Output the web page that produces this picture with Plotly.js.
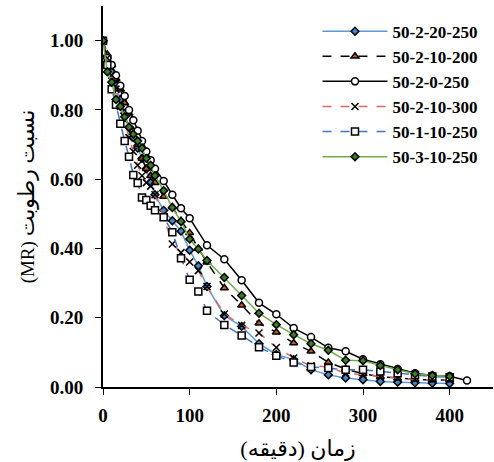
<!DOCTYPE html>
<html>
<head>
<meta charset="utf-8">
<script src="https://cdn.plot.ly/plotly-3.0.1.min.js"></script>
<style>html,body{margin:0;padding:0;background:#fff;}#chart{width:494px;height:462px;}</style>
</head>
<body>
<div id="chart"></div>
<script>
// Time (minutes)
const tA = [0,5,10,15,20,25,30,35,40,45,50,55,60,70,80,90,100,110,120,140,160,180,200,220,240,260,280,300,320,340,360,380,400];
const tC = [0,5,10,15,20,25,30,35,40,45,50,55,60,70,80,90,100,120,140,160,180,200,220,240,260,280,300,320,340,360,380,400,420];

const names = ["50-2-20-250","50-2-10-200","50-2-0-250","50-2-10-300","50-1-10-250","50-3-10-250"];

const mr_2_20_250 = [1.00,0.95,0.91,0.87,0.83,0.79,0.75,0.72,0.69,0.66,0.63,0.59,0.555,0.51,0.48,0.45,0.395,0.35,0.29,0.206,0.175,0.125,0.094,0.079,0.050,0.035,0.026,0.021,0.016,0.014,0.012,0.011,0.010];
const mr_2_10_200 = [1.00,0.96,0.93,0.89,0.86,0.82,0.79,0.74,0.70,0.66,0.63,0.61,0.59,0.55,0.52,0.48,0.445,0.40,0.36,0.286,0.236,0.184,0.158,0.127,0.103,0.071,0.052,0.038,0.030,0.025,0.022,0.020,0.020];
const mr_2_0_250  = [1.00,0.95,0.93,0.90,0.87,0.84,0.80,0.77,0.74,0.71,0.68,0.655,0.63,0.595,0.555,0.516,0.487,0.409,0.369,0.308,0.243,0.210,0.170,0.144,0.113,0.103,0.080,0.066,0.052,0.040,0.033,0.031,0.019];
const mr_2_10_300 = [1.00,0.95,0.90,0.86,0.81,0.77,0.72,0.68,0.64,0.61,0.59,0.58,0.555,0.49,0.413,0.388,0.361,0.336,0.29,0.211,0.178,0.156,0.114,0.084,0.061,0.058,0.040,0.035,0.030,0.025,0.022,0.020,0.020];
const mr_1_10_250 = [1.00,0.93,0.86,0.815,0.76,0.71,0.665,0.612,0.589,0.547,0.540,0.523,0.510,0.490,0.447,0.372,0.310,0.276,0.220,0.179,0.149,0.115,0.090,0.071,0.058,0.055,0.050,0.050,0.045,0.040,0.035,0.030,0.028];
const mr_3_10_250 = [1.00,0.91,0.88,0.83,0.81,0.78,0.75,0.73,0.71,0.69,0.66,0.64,0.61,0.567,0.518,0.478,0.427,0.398,0.365,0.316,0.264,0.213,0.180,0.151,0.125,0.106,0.077,0.076,0.062,0.050,0.038,0.033,0.031];

const xTickVals = [0,100,200,300,400];
const yTickVals = [0,0.2,0.4,0.6,0.8,1.0];

const xTitle = "زمان (دقیقه)";
const yTitleLatin = "(MR)";
const yTitleFa = "نسبت رطوبت";

const serif = "'Liberation Serif', 'Times New Roman', serif";
const arabicFont = "'Liberation Serif', 'DejaVu Sans', serif";

function tr(name, t, y, lineColor, dash, symbol, mFill, mSize, mLine){
  return {
    type: 'scatter', mode: 'lines+markers', name: name, legendgroup: name,
    x: t, y: y,
    line: {color: lineColor, width: 1.5, dash: dash},
    marker: {symbol: symbol, size: mSize, color: mFill, line: {color: mLine, width: 1.5}}
  };
}

const data = [
  tr(names[0], tA, mr_2_20_250, '#5B9BD5', 'solid', 'diamond', '#3B8AD0', 6, '#000'),
  tr(names[1], tA, mr_2_10_200, '#000000', 'dash', 'triangle-up', '#C55A11', 7, '#000'),
  tr(names[2], tC, mr_2_0_250, '#000000', 'solid', 'circle', '#FFFFFF', 7, '#000'),
  tr(names[3], tA, mr_2_10_300, '#E06666', 'dash', 'x-thin', '#000', 7, '#000'),
  tr(names[4], tA, mr_1_10_250, '#4472C4', 'dash', 'square', '#FFFFFF', 7, '#000'),
  tr(names[5], tA, mr_3_10_250, '#70AD47', 'solid', 'diamond', '#3A7D22', 6, '#000')
];

const layout = {
  width: 494, height: 462,
  margin: {l: 103, r: 1, t: 6, b: 75},
  paper_bgcolor: '#fff', plot_bgcolor: '#fff',
  showlegend: true,
  legend: {
    x: 0.55, y: 0.98, xanchor: 'left', yanchor: 'top',
    font: {family: serif, size: 17, color: '#000', weight: 'bold'},
    bgcolor: 'rgba(0,0,0,0)', tracegroupgap: 0, itemwidth: 65
  },
  xaxis: {
    range: [0, 450], tickvals: xTickVals, ticktext: xTickVals.map(String),
    showgrid: false, zeroline: false, showline: true, linecolor: '#000', linewidth: 2,
    ticks: 'outside', ticklen: 6, tickwidth: 1, tickcolor: '#000', ticklabelstandoff: 4,
    tickfont: {family: serif, size: 19, color: '#000', weight: 'bold'},
    title: {text: xTitle, font: {family: arabicFont, size: 22, color: '#000'}, standoff: 16}
  },
  yaxis: {
    range: [0, 1.1], tickvals: yTickVals, ticktext: yTickVals.map(v => v.toFixed(2)),
    showgrid: false, zeroline: false, showline: true, linecolor: '#000', linewidth: 2,
    ticks: 'outside', ticklen: 6, tickwidth: 1, tickcolor: '#000', ticklabelstandoff: 8,
    tickfont: {family: serif, size: 19, color: '#000', weight: 'bold'},
    title: {text: yTitleLatin + " <span style='font-size:22px'>" + yTitleFa + "</span>",
            font: {family: arabicFont, size: 19, color: '#000'}, standoff: 10}
  }
};

Plotly.newPlot('chart', data, layout, {staticPlot: true, displayModeBar: false});
</script>
</body>
</html>
